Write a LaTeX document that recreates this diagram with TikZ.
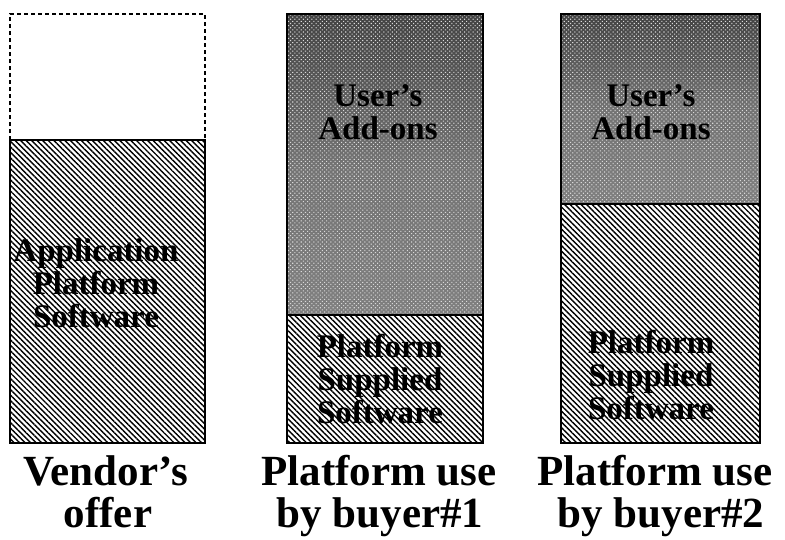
\documentclass[tikz,border=0pt]{standalone}
\usepackage{fontspec}
\setmainfont{Liberation Serif}
\usetikzlibrary{patterns.meta}
\tikzset{
  hatch/.style={pattern={Lines[angle=-45,distance=3.9pt,line width=1.4pt]},pattern color=black},
  dotsfill/.style={top color=black!74, bottom color=black!50, middle color=black!55},
  halftone/.style={pattern={Dots[radius=0.75pt,distance=3pt,angle=45]},pattern color=white!85!black},
  frame/.style={draw=black,line width=2pt},
  dashframe/.style={draw=black,line width=2pt,dash pattern=on 4pt off 3pt},
  inlabel/.style={font=\fontsize{33}{33}\selectfont\bfseries,align=center,inner sep=0pt,text=black},
  caption/.style={font=\fontsize{43}{41}\selectfont\bfseries,align=center,inner sep=0pt,anchor=base,text=black}
}
\begin{document}
\begin{tikzpicture}[x=1pt,y=-1pt]
\useasboundingbox[fill=white] (0,0) rectangle (785,539);
% Box 1
\path[hatch] (10,140) rectangle (205,443);
\draw[frame] (10,140) rectangle (205,443);
\draw[dashframe] (10,140) -- (10,14) -- (205,14) -- (205,140);
% Box 2
\shade[dotsfill] (287,14) rectangle (483,315);
\path[halftone] (287,14) rectangle (483,315);
\path[hatch] (287,315) rectangle (483,443);
\draw[frame] (287,14) rectangle (483,443);
\draw[frame] (287,315) -- (483,315);
% Box 3
\shade[dotsfill] (561,14) rectangle (760,204);
\path[halftone] (561,14) rectangle (760,204);
\path[hatch] (561,204) rectangle (760,443);
\draw[frame] (561,14) rectangle (760,443);
\draw[frame] (561,204) -- (760,204);
% inner labels
\node[inlabel] (aps) at (96,283) {Application\\Platform\\Software};
\node[inlabel] (ua1) at (378,112) {User’s\\Add-ons};
\node[inlabel] (ua2) at (651,112) {User’s\\Add-ons};
\node[inlabel] (pss1) at (380,379) {Platform\\Supplied\\Software};
\node[inlabel] (pss2) at (651,375) {Platform\\Supplied\\Software};
% captions
\node[caption] (c1a) at (106,485) {Vendor’s};
\node[caption] (c1b) at (108,527) {offer};
\node[caption] (c2a) at (379,485) {Platform use};
\node[caption] (c2b) at (380,527) {by buyer\#1};
\node[caption] (c3a) at (655,485) {Platform use};
\node[caption] (c3b) at (661,527) {by buyer\#2};
\end{tikzpicture}
\end{document}
